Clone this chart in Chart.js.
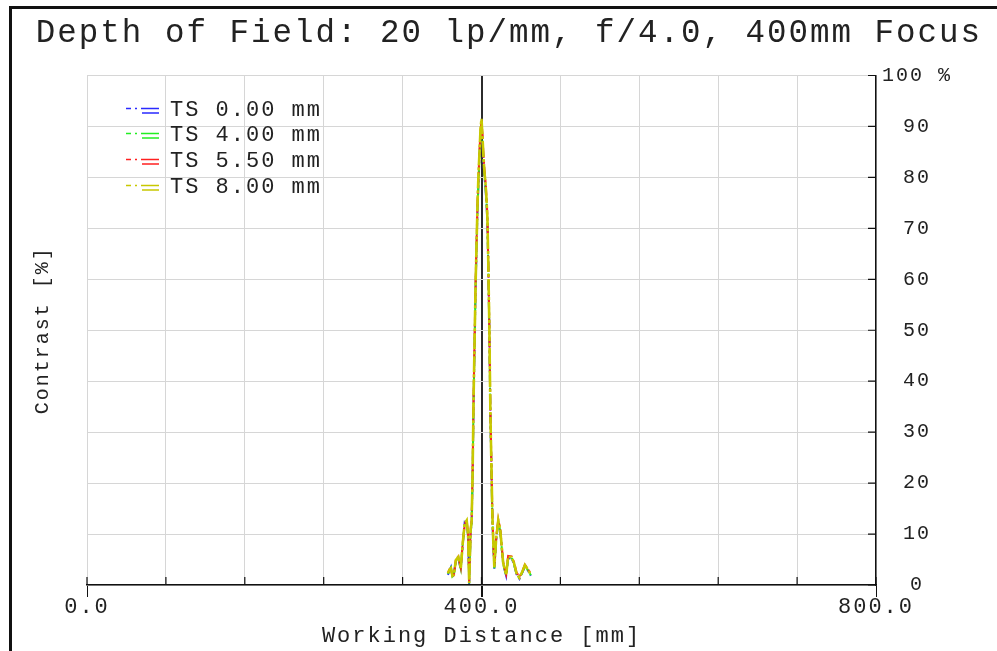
<!DOCTYPE html>
<html>
<head>
<meta charset="utf-8">
<script src="https://cdn.jsdelivr.net/npm/chart.js@4/dist/chart.umd.min.js"></script>
<style>
  html, body { margin: 0; padding: 0; background: #fff; }
  #wrap { position: relative; width: 997px; height: 651px; overflow: hidden; }
  #frame { position: absolute; left: 9px; top: 6px; width: 1100px; height: 800px;
           border-left: 3px solid #111; border-top: 3px solid #111; pointer-events: none; }
  #legend { position: absolute; left: 126px; top: 98px; margin: 0; padding: 0; list-style: none;
            font: 22px "Liberation Mono", monospace; letter-spacing: 2px; color: #222; }
  #legend li { height: 25.6px; line-height: 26px; display: flex; align-items: center; }
  #legend svg { width: 33px; height: 8px; margin-right: 11px; }
</style>
</head>
<body>
<div id="wrap">
  <canvas id="dof" width="997" height="651"></canvas>
  <div id="frame"></div>
  <ul id="legend"></ul>
</div>
<script>
// working distance [mm]
const distance = [366,367.5,369,370.5,372,374,376.5,379,381,383,385,386.5,387.5,389,390,391,392,393,394,395,396,397,398,399,400,401,402,403,404,405,406,407,408,409,410,411,412,413,415,417,419,420.5,422,425,427,430.5,433,435.5,438.5,442,444,447.5,450];

// contrast [%] per field height
const ts000 = [2.0,2.8,3.5,1.5,2.2,4.6,5.2,3.0,7.9,12.4,12.3,9.0,0.2,10.4,12.0,21,36,47,58,66,74,79,84,88,90.5,87,83,80,78,75,71,61,49,33,23,13,7.8,3.2,9.0,12.3,10.5,7.2,4.0,1.8,5.2,5.3,4.0,2.1,1.2,2.7,3.6,2.7,1.8];
const ts400 = [2.2,2.9,3.4,1.7,2.1,4.8,5.4,3.2,8.0,12.3,12.5,9.2,0.3,10.6,12.2,21.5,36.5,47.5,58.5,66.5,74.5,79.5,84.5,88.5,91,87.5,83.5,80.5,78.5,75.5,71.5,61.5,49.5,33.5,23.5,13.5,8.0,3.3,9.2,12.5,10.6,7.3,4.1,1.9,5.3,5.4,4.1,2.2,1.3,2.8,3.7,2.8,1.9];
const ts550 = [2.4,3.1,3.2,1.9,1.9,5.0,5.6,3.4,8.4,11.8,12.9,9.6,0.6,11.0,12.8,22.5,37.5,48.5,59.5,67.5,75.5,80.5,85.5,89,91.2,88.5,84.5,81.5,79.5,76.5,72.5,62.5,50.5,34.5,24.5,14.5,8.5,3.8,9.6,12.9,11.0,7.8,4.5,2.2,5.7,5.6,4.5,2.5,1.6,3.0,4.0,3.0,2.2];
const ts800 = [2.3,3.0,3.3,1.8,2.0,4.9,5.5,3.3,8.2,12.1,12.7,9.4,0.4,10.8,12.5,22,37,48,59,67,75,81,85,89.5,91.5,88,84,81,79,76,72,62,50,34,24,14,8.2,3.5,9.4,12.7,10.8,7.5,4.3,2.0,5.5,5.5,4.3,2.3,1.4,2.9,3.9,2.9,2.0];

const seriesNames  = ["TS 0.00 mm", "TS 4.00 mm", "TS 5.50 mm", "TS 8.00 mm"];
const seriesColors = ["#2a2aff", "#22ee22", "#ff2020", "#c8c800"];
const seriesValues = [ts000, ts400, ts550, ts800];

const xLabelValues = [0, 400, 800];   // labelled ticks on the distance axis
const focusDistance = 400;

const MONO = "'Liberation Mono', 'Courier New', monospace";
const INK = "#222";

// letter spacing on canvas text (the original uses a wide monospace)
const spacing = {
  id: "spacing",
  beforeUpdate(chart){ chart.ctx.letterSpacing = "2px"; },
  beforeDraw(chart){ chart.ctx.letterSpacing = "2px"; }
};

// short tick marks pointing into the plot
const innerTicks = {
  id: "innerTicks",
  afterDraw(chart){
    const {ctx, chartArea: a, scales: {x, y}} = chart;
    ctx.save();
    ctx.strokeStyle = "#111";
    ctx.lineWidth = 1.2;
    ctx.beginPath();
    x.ticks.forEach(t => { const px = x.getPixelForValue(t.value); ctx.moveTo(px, a.bottom); ctx.lineTo(px, a.bottom - 8); });
    y.ticks.forEach(t => { const py = y.getPixelForValue(t.value); ctx.moveTo(a.right, py); ctx.lineTo(a.right - 8, py); });
    ctx.stroke();
    ctx.restore();
  }
};

const last = seriesNames.length - 1;
const datasets = seriesNames.map((name, i) => ({
  label: name,
  data: distance.map((d, k) => ({x: d, y: seriesValues[i][k]})),
  borderColor: seriesColors[i],
  backgroundColor: seriesColors[i],
  borderWidth: i === last ? 2.6 : 2,
  borderDash: i === last ? [16, 2, 3, 2] : [10, 3, 3, 3],
  pointRadius: 0,
  tension: 0,
  order: seriesNames.length - i      // yellow drawn on top
}));

new Chart(document.getElementById("dof"), {
  type: "line",
  data: { datasets },
  plugins: [spacing, innerTicks],
  options: {
    responsive: false,
    animation: false,
    layout: { padding: { right: 15 } },
    plugins: {
      legend: { display: false },
      tooltip: { enabled: false },
      title: {
        display: true,
        text: "Depth of Field: 20 lp/mm, f/4.0, 400mm Focus",
        align: "end",
        color: INK,
        font: { family: MONO, size: 32.5, weight: "normal", lineHeight: 1 },
        padding: { top: 17, bottom: 26 }
      }
    },
    scales: {
      x: {
        type: "linear",
        min: 0, max: 800,
        ticks: {
          stepSize: 80,
          autoSkip: false,
          maxRotation: 0,
          padding: -3,
          color: INK,
          font: { family: MONO, size: 22 },
          callback: v => xLabelValues.includes(v) ? v.toFixed(1) : ""
        },
        grid: {
          color: c => c.tick && c.tick.value === focusDistance ? "#2b2b2b" : "#d6d6d6",
          lineWidth: c => c.tick && c.tick.value === focusDistance ? 2 : 1,
          tickLength: 12,
          tickColor: c => c.tick && xLabelValues.includes(c.tick.value) ? "#111" : "rgba(0,0,0,0)"
        },
        border: { color: "#111", width: 1.5 },
        title: {
          display: true,
          text: "Working Distance [mm]",
          color: INK,
          font: { family: MONO, size: 22 },
          padding: { top: 0, bottom: 2 }
        },
        afterFit: s => { s.height = 66; }
      },
      y: {
        position: "right",
        min: 0, max: 100,
        ticks: {
          stepSize: 10,
          crossAlign: "center",
          padding: 6,
          color: INK,
          font: { family: MONO, size: 20 },
          callback: v => v === 100 ? "100 %" : String(v)
        },
        grid: { color: "#d6d6d6", drawTicks: false },
        border: { color: "#111", width: 1.5 },
        afterFit: s => { s.width = 106; }
      },
      yTitle: {
        position: "left",
        min: 0, max: 100,
        ticks: { display: false },
        grid: { display: false },
        border: { display: false },
        title: {
          display: true,
          text: "Contrast [%]",
          color: INK,
          font: { family: MONO, size: 20 },
          padding: { top: 31, bottom: 0 }
        },
        afterFit: s => { s.width = 87; }
      }
    }
  }
});

// legend inside the plot
document.getElementById("legend").innerHTML = seriesNames.map((name, i) => `
  <li><svg viewBox="0 0 33 8"><line x1="0" y1="1.5" x2="33" y2="1.5" stroke="${seriesColors[i]}" stroke-width="1.6" stroke-dasharray="5,4,2,4,18"/><line x1="0" y1="6" x2="33" y2="6" stroke="${seriesColors[i]}" stroke-width="1.6" stroke-dasharray="0,16,17"/></svg>${name}</li>
`).join("");
</script>
</body>
</html>
